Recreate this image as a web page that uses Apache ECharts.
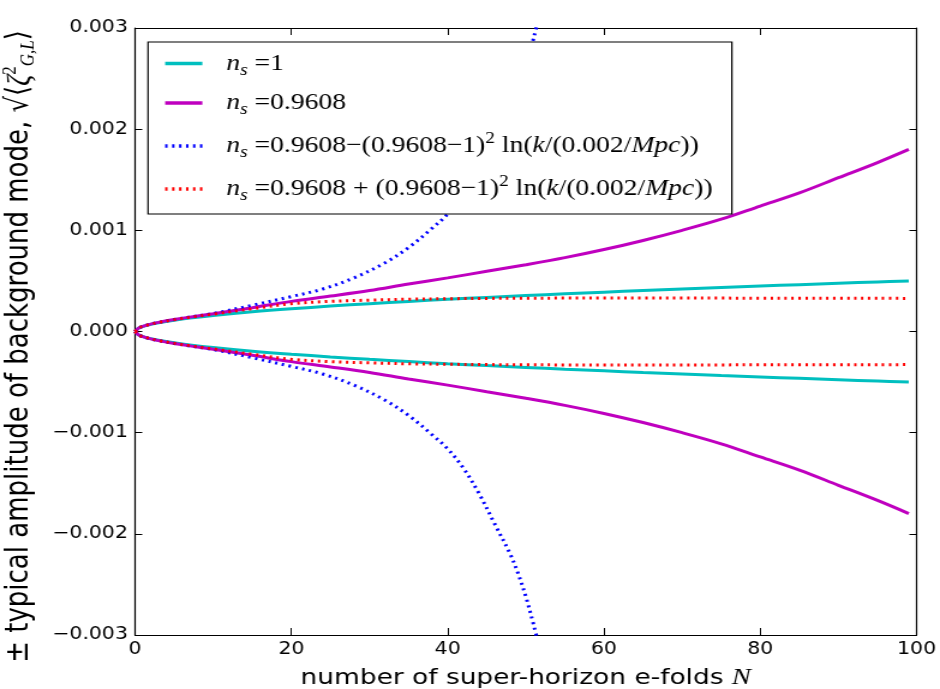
<!DOCTYPE html>
<html>
<head>
<meta charset="utf-8">
<script src="https://cdn.jsdelivr.net/npm/echarts@6/dist/echarts.min.js"></script>
<style>
  html, body { margin: 0; padding: 0; background: #fff; overflow: hidden; }
  #wrap { width: 940px; height: 689px; overflow: hidden; }
  /* the figure is laid out on a narrower canvas and widened 1.2x */
  #chart { width: 783px; height: 689px; transform-origin: 0 0; transform: scaleX(1.2005); }
</style>
</head>
<body>
<div id="wrap"><div id="chart"></div></div>
<script>
// number of super-horizon e-folds N
const nGrid = [0, 0.5, 1, 2, 3, 5, 7, 10, 15, 20, 25, 30, 35, 40, 45, 50, 55, 60, 65, 70, 75, 80, 85, 90, 95, 99];
const nGridRunning = [0, 0.5, 1, 2, 3, 5, 7, 10, 15, 20, 24, 28, 32, 35, 38, 40, 42, 44, 46, 48, 49, 50, 51, 52];

// n_s = 1
const flatUpper = [0, 0.000036, 0.00005, 0.000071, 0.000087, 0.000112, 0.000133, 0.000159, 0.000195, 0.000225, 0.000251, 0.000275, 0.000297, 0.000318, 0.000337, 0.000355, 0.000373, 0.000389, 0.000405, 0.00042, 0.000435, 0.000449, 0.000463, 0.000477, 0.00049, 0.0005];
const flatLower = [0, -0.000036, -0.00005, -0.000071, -0.000087, -0.000112, -0.000133, -0.000159, -0.000195, -0.000225, -0.000251, -0.000275, -0.000297, -0.000318, -0.000337, -0.000355, -0.000373, -0.000389, -0.000405, -0.00042, -0.000435, -0.000449, -0.000463, -0.000477, -0.00049, -0.0005];

// n_s = 0.9608
const tiltUpper = [0, 0.000036, 0.000051, 0.000073, 0.00009, 0.000118, 0.000142, 0.000175, 0.000235, 0.000298, 0.00035, 0.000405, 0.00047, 0.00053, 0.000595, 0.00066, 0.00073, 0.00081, 0.0009, 0.001, 0.00111, 0.00124, 0.00137, 0.00152, 0.00167, 0.0018];
const tiltLower = [0, -0.000036, -0.000051, -0.000073, -0.00009, -0.000118, -0.000142, -0.000175, -0.000235, -0.000298, -0.00035, -0.000405, -0.00047, -0.00053, -0.000595, -0.00066, -0.00073, -0.00081, -0.0009, -0.001, -0.00111, -0.00124, -0.00137, -0.00152, -0.00167, -0.0018];

// n_s = 0.9608 - (0.9608-1)^2 ln(k/(0.002/Mpc))
const runMinusUpper = [0, 0.000036, 0.000051, 0.000073, 0.00009, 0.000118, 0.000143, 0.000178, 0.00026, 0.000345, 0.00042, 0.00053, 0.00068, 0.00083, 0.00102, 0.00116, 0.00135, 0.0016, 0.0019, 0.0022, 0.00239, 0.00262, 0.0029, 0.0032];
const runMinusLower = [0, -0.000036, -0.000051, -0.000073, -0.00009, -0.000118, -0.000143, -0.000178, -0.00026, -0.000345, -0.00042, -0.00053, -0.00068, -0.00083, -0.00102, -0.00116, -0.00135, -0.0016, -0.0019, -0.0022, -0.00239, -0.00262, -0.0029, -0.0032];

// n_s = 0.9608 + (0.9608-1)^2 ln(k/(0.002/Mpc))
const runPlusUpper = [0, 0.000036, 0.000051, 0.000072, 0.000089, 0.000116, 0.00014, 0.000172, 0.000225, 0.000275, 0.000298, 0.00031, 0.000319, 0.000324, 0.000327, 0.000329, 0.00033, 0.00033, 0.00033, 0.00033, 0.00033, 0.000329, 0.000329, 0.000328, 0.000328, 0.000327];
const runPlusLower = [0, -0.000036, -0.000051, -0.000072, -0.000089, -0.000116, -0.00014, -0.000172, -0.000225, -0.000275, -0.000298, -0.00031, -0.000319, -0.000324, -0.000327, -0.000329, -0.00033, -0.00033, -0.00033, -0.00033, -0.00033, -0.000329, -0.000329, -0.000328, -0.000328, -0.000327];

// axis ticks
const xTickValues = [0, 20, 40, 60, 80, 100];
const xTickLabels = ['0', '20', '40', '60', '80', '100'];
const yTickValues = [-0.003, -0.002, -0.001, 0, 0.001, 0.002, 0.003];
const yTickLabels = ['\u22120.003', '\u22120.002', '\u22120.001', '0.000', '0.001', '0.002', '0.003'];

// legend entries
const seriesNames = ['ns1', 'ns09608', 'nsRunMinus', 'nsRunPlus'];
const legendLabels = {
  ns1: '{n|n}{s|s}{t| =1}',
  ns09608: '{n|n}{s|s}{t| =0.9608}',
  nsRunMinus: '{n|n}{s|s}{t| =0.9608\u2212(0.9608\u22121)}{p|2}{t| ln(}{i|k}{t|/(0.002/}{i|Mpc}{t|))}',
  nsRunPlus: '{n|n}{s|s}{t| =0.9608 + (0.9608\u22121)}{p|2}{t| ln(}{i|k}{t|/(0.002/}{i|Mpc}{t|))}'
};

const CYAN = '#00bfbf', MAGENTA = '#bf00bf', BLUE = '#0000ff', RED = '#ff0000';
const DOTS = [2, 3.8];

function curve(name, xs, ys, color, dotted) {
  return {
    type: 'line',
    name: name,
    data: xs.map((x, i) => [x, ys[i]]),
    symbol: 'none',
    showSymbol: false,
    smooth: 0.35,
    clip: true,
    silent: true,
    lineStyle: { color: color, width: 3, type: dotted ? DOTS : 'solid', cap: 'butt' },
    itemStyle: { color: color }
  };
}

const serif = 'Liberation Serif';
const sans = 'DejaVu Sans';

const xMin = xTickValues[0], xMax = xTickValues[xTickValues.length - 1], xStep = xTickValues[1] - xTickValues[0];
const yMin = yTickValues[0], yMax = yTickValues[yTickValues.length - 1], yStep = yTickValues[1] - yTickValues[0];

function frameAxis(extra) {
  return Object.assign({
    type: 'value',
    axisLine: { show: true, onZero: false, lineStyle: { color: '#000', width: 1.2 } },
    axisTick: { show: true, inside: true, length: 7, lineStyle: { color: '#000', width: 1 } },
    splitLine: { show: false },
    axisLabel: { show: false }
  }, extra);
}

const chart = echarts.init(document.getElementById('chart'), null, { renderer: 'canvas' });
chart.setOption({
  animation: false,
  backgroundColor: '#fff',
  textStyle: { fontFamily: sans },
  grid: { left: 112.5, right: 19.5, top: 28, bottom: 54, containLabel: false, outerBoundsMode: 'none' },
  xAxis: [
    frameAxis({
      position: 'bottom', min: xMin, max: xMax, interval: xStep,
      axisLabel: {
        show: true, margin: 6, fontFamily: sans, fontSize: 17, color: '#000',
        formatter: (v) => xTickLabels[Math.round((v - xMin) / xStep)]
      },
      name: '{t|number of super-horizon e-folds }{i|N}',
      nameLocation: 'middle',
      nameGap: 30,
      nameTextStyle: {
        rich: {
          t: { fontFamily: sans, fontSize: 22, color: '#000', lineHeight: 26 },
          i: { fontFamily: serif, fontStyle: 'italic', fontSize: 24, color: '#000', lineHeight: 26 }
        }
      }
    }),
    frameAxis({ position: 'top', min: xMin, max: xMax, interval: xStep })
  ],
  yAxis: [
    frameAxis({
      position: 'left', min: yMin, max: yMax, interval: yStep,
      axisTick: { show: true, inside: true, length: 6, lineStyle: { color: '#000', width: 1 } },
      axisLabel: {
        show: true, margin: 6, fontFamily: sans, fontSize: 17, color: '#000',
        formatter: (v) => yTickLabels[Math.round((v - yMin) / yStep)]
      },
      name: '{t|\u00b1 typical amplitude of background mode, }{m|\u221a\u27e8}{z|\u03b6}{p|2}{b|G,L}{m|\u27e9}',
      nameLocation: 'middle',
      nameRotate: 90,
      nameGap: 80,
      nameTextStyle: {
        padding: [0, 30, 0, 0],
        rich: {
          t: { fontFamily: sans, fontSize: 26, color: '#000', lineHeight: 32 },
          m: { fontFamily: sans, fontSize: 26, color: '#000', lineHeight: 32 },
          z: { fontFamily: serif, fontStyle: 'italic', fontSize: 27, color: '#000', lineHeight: 32 },
          p: { fontFamily: serif, fontSize: 17, color: '#000', lineHeight: 16, verticalAlign: 'top' },
          b: { fontFamily: serif, fontStyle: 'italic', fontSize: 17, color: '#000', lineHeight: 16, verticalAlign: 'bottom' }
        }
      }
    }),
    frameAxis({
      position: 'right', min: yMin, max: yMax, interval: yStep,
      axisTick: { show: true, inside: true, length: 6, lineStyle: { color: '#000', width: 1 } }
    })
  ],
  legend: {
    data: seriesNames,
    orient: 'vertical',
    left: 123.3,
    top: 42,
    padding: [10, 16, 10, 12.5],
    itemGap: 13,
    itemWidth: 31,
    itemHeight: 14,
    backgroundColor: '#fff',
    borderColor: '#000',
    borderWidth: 1.2,
    borderRadius: 0,
    selectedMode: false,
    itemStyle: { opacity: 0 },
    lineStyle: { width: 3.5 },
    formatter: (name) => legendLabels[name],
    textStyle: {
      color: '#000',
      rich: {
        t: { fontFamily: serif, fontSize: 23, lineHeight: 30, color: '#000' },
        n: { fontFamily: serif, fontStyle: 'italic', fontSize: 23, lineHeight: 30, color: '#000', padding: [0, 0, 0, 15] },
        i: { fontFamily: serif, fontStyle: 'italic', fontSize: 23, lineHeight: 30, color: '#000' },
        s: { fontFamily: serif, fontStyle: 'italic', fontSize: 16, lineHeight: 16, verticalAlign: 'bottom', color: '#000' },
        p: { fontFamily: serif, fontSize: 16, lineHeight: 16, verticalAlign: 'top', color: '#000' }
      }
    }
  },
  series: [
    curve('ns1', nGrid, flatUpper, CYAN, false),
    curve('ns1', nGrid, flatLower, CYAN, false),
    curve('ns09608', nGrid, tiltUpper, MAGENTA, false),
    curve('ns09608', nGrid, tiltLower, MAGENTA, false),
    curve('nsRunMinus', nGridRunning, runMinusUpper, BLUE, true),
    curve('nsRunMinus', nGridRunning, runMinusLower, BLUE, true),
    curve('nsRunPlus', nGrid, runPlusUpper, RED, true),
    curve('nsRunPlus', nGrid, runPlusLower, RED, true)
  ]
});
</script>
</body>
</html>
